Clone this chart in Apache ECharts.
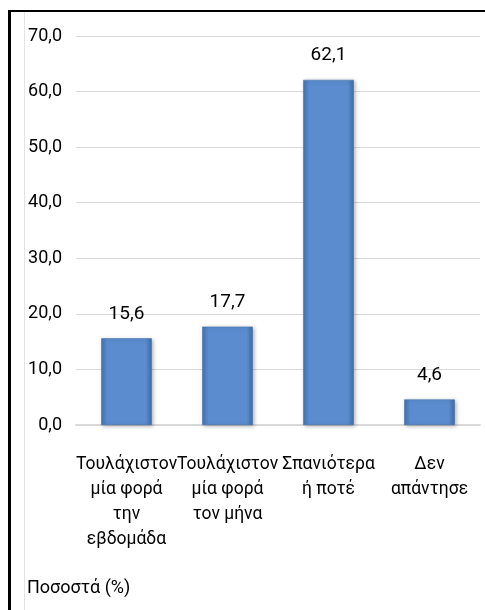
<!DOCTYPE html>
<html>
<head>
<meta charset="utf-8">
<script src="https://cdn.jsdelivr.net/npm/echarts@6/dist/echarts.min.js"></script>
<style>
html,body{margin:0;padding:0;background:#fff;}
#chart{width:485px;height:610px;}
</style>
</head>
<body>
<div id="chart"></div>
<script>
var categories = [
  "Τουλάχιστον\nμία φορά\nτην\nεβδομάδα",
  "Τουλάχιστον\nμία φορά\nτον μήνα",
  "Σπανιότερα\nή ποτέ",
  "Δεν\nαπάντησε"
];
var values = [15.6, 17.7, 62.1, 4.6];
var yMin = 0, yMax = 70, yStep = 10;
var axisTitle = "Ποσοστά (%)";

var fontFam = "Roboto, 'Noto Sans', sans-serif";
var chart = echarts.init(document.getElementById('chart'), null, {renderer: 'canvas'});
function fmt(v){ return v.toFixed(1).replace('.', ','); }

chart.setOption({
  animation: false,
  backgroundColor: '#ffffff',
  textStyle: {fontFamily: fontFam},
  title: {
    text: axisTitle,
    left: 27, top: 579, padding: 0,
    textStyle: {fontSize: 18, fontWeight: 'normal', color: '#000', fontFamily: fontFam}
  },
  grid: {left: 76, right: 5, top: 36, bottom: 185, containLabel: false},
  xAxis: {
    type: 'category',
    data: categories,
    axisLine: {show: true, lineStyle: {color: '#d9d9d9', width: 2}},
    axisTick: {show: false},
    axisLabel: {
      interval: 0, color: '#000', fontSize: 17.5, lineHeight: 25, margin: 27,
      fontFamily: fontFam
    }
  },
  yAxis: {
    type: 'value',
    min: yMin, max: yMax, interval: yStep,
    axisLine: {show: false},
    axisTick: {show: false},
    splitLine: {lineStyle: {color: '#d9d9d9', width: 1}},
    axisLabel: {
      color: '#000', fontSize: 18, margin: 14, fontFamily: fontFam,
      formatter: function(v){ return fmt(v); }
    }
  },
  series: [{
    type: 'bar',
    data: values,
    barWidth: '50%',
    itemStyle: {
      color: new echarts.graphic.LinearGradient(0, 0, 1, 0, [
        {offset: 0, color: '#4373b0'},
        {offset: 0.12, color: '#5a8ccf'},
        {offset: 0.88, color: '#5a8ccf'},
        {offset: 1, color: '#3f6ca6'}
      ]),
      borderColor: '#3d6aa3',
      borderWidth: 0.5,
      shadowColor: 'rgba(0,0,0,0.3)',
      shadowBlur: 4,
      shadowOffsetX: 1,
      shadowOffsetY: 1
    },
    label: {
      show: true, position: 'top', distance: 15,
      color: '#000', fontSize: 19, fontFamily: fontFam,
      formatter: function(p){ return fmt(p.value); }
    }
  }],
  graphic: [
    {type: 'line', shape: {x1: 24.5, y1: 12, x2: 24.5, y2: 610}, style: {stroke: '#e3e3e3', lineWidth: 1}},
    {type: 'line', shape: {x1: 8, y1: 11, x2: 485, y2: 11}, style: {stroke: '#000', lineWidth: 2}},
    {type: 'line', shape: {x1: 9.5, y1: 10, x2: 9.5, y2: 610}, style: {stroke: '#000', lineWidth: 3}}
  ]
});
</script>
</body>
</html>
